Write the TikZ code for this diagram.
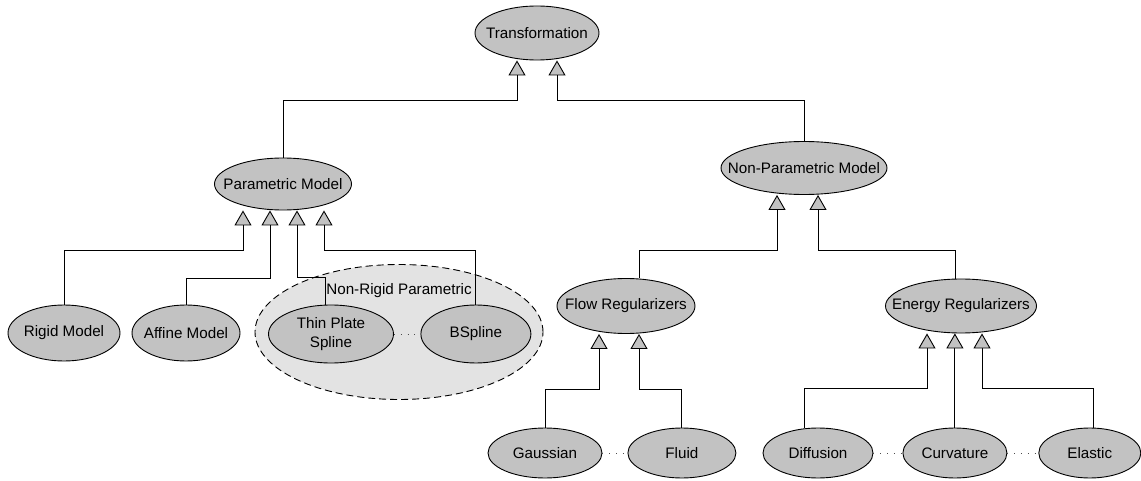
\documentclass[tikz,border=0pt]{standalone}
\usepackage{fontspec}
\setmainfont{Liberation Sans}
\usetikzlibrary{shapes}
\usetikzlibrary{arrows.meta}
\usetikzlibrary{positioning}

\begin{document}
\begin{tikzpicture}[x=1pt,y=1pt]
      \definecolor{classgray}{gray}{0.76}
      \definecolor{regiongray}{gray}{0.89}
      \tikzstyle{every node}=[font=\fontsize{15.2}{19}\selectfont]
      \tikzstyle{cls}=[ellipse,draw,fill=classgray,inner sep=0pt,line width=0.9pt,
        execute at begin node=\hbox to 0pt\bgroup\hss,execute at end node=\hss\egroup]
      \tikzstyle{region}=[ellipse,draw,dashed,fill=regiongray,inner sep=0pt,line width=0.9pt,dash pattern=on 7pt off 4pt]
      \tikzstyle{isa}=[line width=0.9pt,-{Triangle[open,fill=classgray,length=15pt,width=17pt]}]
      \tikzstyle{peer}=[line width=0.8pt,dash pattern=on 0.8pt off 6pt,black!70]

      \useasboundingbox (0,0) rectangle (1141,-481);

      % top levels
      \node [cls,minimum width=124,minimum height=54] (trans) at (537,-33) {Transformation};
      \node [cls,minimum width=137,minimum height=52] (pm) at (283,-184) {Parametric Model};
      \node [cls,minimum width=166,minimum height=53] (npm) at (804,-168) {Non-Parametric Model};

      % parametric side
      \node [cls,minimum width=112,minimum height=56] (rigid) at (64,-333) {Rigid Model};
      \node [cls,minimum width=108,minimum height=56] (affine) at (186,-333) {Affine Model};
      \node [region,minimum width=288,minimum height=135] (nonrigid) at (399,-332) {};
      \node (nrlabel) at ([yshift=-27]nonrigid.north) {Non-Rigid Parametric};
      \node [cls,minimum width=125,minimum height=58] (tps) at (331,-334) {\begin{tabular}{@{}c@{}}Thin Plate\\Spline\end{tabular}};
      \node [cls,minimum width=110,minimum height=58,right=26.5 of tps] (bspline) {BSpline};

      % non-parametric side
      \node [cls,minimum width=138,minimum height=55] (flow) at (626,-306) {Flow Regularizers};
      \node [cls,minimum width=151,minimum height=54] (energy) at (961,-306) {Energy Regularizers};
      \node [cls,minimum width=114,minimum height=50] (gauss) at (545,-453) {Gaussian};
      \node [cls,minimum width=108,minimum height=50,right=25 of gauss] (fluid) {Fluid};
      \node [cls,minimum width=110,minimum height=50] (diff) at (818,-453) {Diffusion};
      \node [cls,minimum width=104,minimum height=50,right=29 of diff] (curv) {Curvature};
      \node [cls,minimum width=102,minimum height=50,right=31 of curv] (elastic) {Elastic};

      \draw [peer] (tps) -- (bspline);
      \draw [peer] (gauss) -- (fluid);
      \draw [peer] (diff) -- (curv);
      \draw [peer] (curv) -- (elastic);

      % generalisations
      \draw [isa] (pm.north) |- ([xshift=-20,yshift=-40]trans.south) -- ([xshift=-20]trans.south);
      \draw [isa] (npm.north) |- ([xshift=20,yshift=-40]trans.south) -- ([xshift=20]trans.south);

      \draw [isa] (rigid.north) |- ([xshift=-40,yshift=-40]pm.south) -- ([xshift=-40]pm.south);
      \draw [isa] (affine.north) |- ([xshift=-13,yshift=-68]pm.south) -- ([xshift=-13]pm.south);
      \draw [isa] ([xshift=-6]tps.north) |- ([xshift=14,yshift=-67]pm.south) -- ([xshift=14]pm.south);
      \draw [isa] (bspline.north) |- ([xshift=41,yshift=-40]pm.south) -- ([xshift=41]pm.south);

      \draw [isa] ([xshift=13]flow.north) |- ([xshift=-27,yshift=-56]npm.south) -- ([xshift=-27]npm.south);
      \draw [isa] ([xshift=-6]energy.north) |- ([xshift=14,yshift=-56]npm.south) -- ([xshift=14]npm.south);

      \draw [isa] (gauss.north) |- ([xshift=-27,yshift=-55]flow.south) -- ([xshift=-27]flow.south);
      \draw [isa] (fluid.north) |- ([xshift=13,yshift=-55]flow.south) -- ([xshift=13]flow.south);

      \draw [isa] ([xshift=-14]diff.north) |- ([xshift=-34,yshift=-55]energy.south) -- ([xshift=-34]energy.south);
      \draw [isa] (curv.north) -- (curv.north |- energy.south);
      \draw [isa] ([xshift=4]elastic.north) |- ([xshift=21,yshift=-55]energy.south) -- ([xshift=21]energy.south);
    \end{tikzpicture}
\end{document}
